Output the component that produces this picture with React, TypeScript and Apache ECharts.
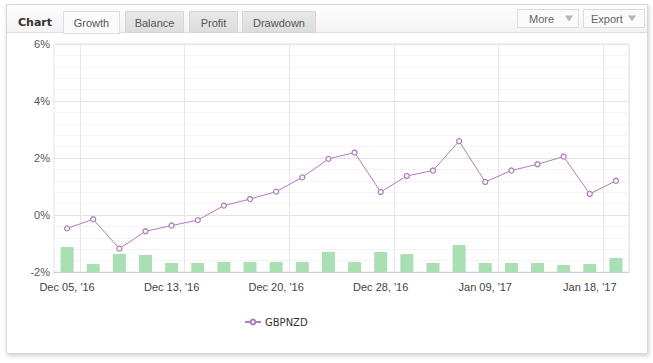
import React, { useEffect, useRef } from 'react';
import * as echarts from 'echarts';

const categories: string[] = [
  "Dec 05, '16", "Dec 06, '16", "Dec 08, '16", "Dec 12, '16",
  "Dec 13, '16", "Dec 14, '16", "Dec 15, '16", "Dec 19, '16",
  "Dec 20, '16", "Dec 21, '16", "Dec 22, '16", "Dec 23, '16",
  "Dec 28, '16", "Dec 29, '16", "Jan 03, '17", "Jan 05, '17",
  "Jan 09, '17", "Jan 10, '17", "Jan 12, '17", "Jan 16, '17",
  "Jan 18, '17", "Jan 19, '17",
];

const growth: number[] = [
  -0.47, -0.15, -1.18, -0.57, -0.37, -0.18, 0.33, 0.56, 0.82, 1.32, 1.97,
  2.19, 0.81, 1.37, 1.56, 2.59, 1.16, 1.56, 1.78, 2.05, 0.74, 1.2,
];

const activity: number[] = [
  25, 8, 18, 17, 9, 9, 10, 10, 10, 10, 20, 10, 20, 18, 9, 27, 9, 9, 9, 7, 8, 14,
];

const yTicks: number[] = [-2, 0, 2, 4, 6];
const tabs: string[] = ['Growth', 'Balance', 'Profit', 'Drawdown'];
const seriesName = 'GBPNZD';

const FONT = "'Liberation Sans', Arial, sans-serif";

export default function App() {
  const ref = useRef<HTMLDivElement>(null);

  useEffect(() => {
    if (!ref.current) return;
    const chart = echarts.init(ref.current, null, { renderer: 'svg' });

    const tabBoxes = [
      { x: 63, w: 56 },
      { x: 125, w: 58 },
      { x: 189, w: 48 },
      { x: 242, w: 73 },
    ];

    const tabGraphics: any[] = [];
    tabs.forEach((t, i) => {
      const b = tabBoxes[i];
      const active = i === 0;
      tabGraphics.push({
        type: 'rect',
        z: -5,
        shape: { x: b.x + 0.5, y: 11.5, width: b.w, height: active ? 22 : 21 },
        style: {
          fill: active
            ? '#fbfbfb'
            : new echarts.graphic.LinearGradient(0, 0, 0, 1, [
                { offset: 0, color: '#e9e9e9' },
                { offset: 1, color: '#dcdcdc' },
              ]),
          stroke: active ? '#dedede' : '#d6d6d6',
          lineWidth: 1,
        },
      });
      tabGraphics.push({
        type: 'text',
        z: 10,
        x: b.x + b.w / 2 + 0.5,
        y: 22.5,
        style: {
          text: t,
          fill: '#555',
          font: `11px ${FONT}`,
          align: 'center',
          verticalAlign: 'middle',
        },
      });
    });

    const buttons = [
      { x: 517, w: 61, label: 'More', tx: 529, ax: 569 },
      { x: 583, w: 61, label: 'Export', tx: 591, ax: 632 },
    ];
    const buttonGraphics: any[] = [];
    buttons.forEach((b) => {
      buttonGraphics.push({
        type: 'rect',
        z: -5,
        shape: { x: b.x + 0.5, y: 9.5, width: b.w, height: 18 },
        style: { fill: '#fafafa', stroke: '#dcdcdc', lineWidth: 1 },
      });
      buttonGraphics.push({
        type: 'text',
        z: 10,
        x: b.tx,
        y: 19,
        style: {
          text: b.label,
          fill: '#666',
          font: `11px ${FONT}`,
          align: 'left',
          verticalAlign: 'middle',
        },
      });
      buttonGraphics.push({
        type: 'polygon',
        z: 10,
        shape: {
          points: [
            [b.ax - 4, 15.5],
            [b.ax + 4, 15.5],
            [b.ax, 21.5],
          ],
        },
        style: { fill: '#b5b5b5' },
      });
    });

    chart.setOption({
      animation: false,
      textStyle: { fontFamily: FONT },
      graphic: [
        {
          type: 'rect',
          z: -10,
          shape: { x: 6.5, y: 4.5, width: 641, height: 349 },
          style: {
            fill: '#ffffff',
            stroke: '#d8d8d8',
            lineWidth: 1,
            shadowBlur: 4,
            shadowOffsetX: 1,
            shadowOffsetY: 2,
            shadowColor: 'rgba(0,0,0,0.18)',
          },
        },
        {
          type: 'rect',
          z: -9,
          shape: { x: 7, y: 5, width: 640, height: 27.5 },
          style: {
            fill: new echarts.graphic.LinearGradient(0, 0, 0, 1, [
              { offset: 0, color: '#fdfdfd' },
              { offset: 1, color: '#f3f3f3' },
            ]),
          },
        },
        {
          type: 'line',
          z: -8,
          shape: { x1: 7, y1: 32.5, x2: 647, y2: 32.5 },
          style: { stroke: '#dedede', lineWidth: 1 },
        },
        {
          type: 'text',
          z: 10,
          x: 18,
          y: 22,
          style: {
            text: 'Chart',
            fill: '#333',
            font: `bold 11px 'DejaVu Sans', sans-serif`,
            align: 'left',
            verticalAlign: 'middle',
          },
        },
        ...tabGraphics,
        ...buttonGraphics,
      ],
      legend: {
        show: true,
        left: 239,
        top: 312,
        itemWidth: 16,
        itemHeight: 6,
        itemGap: 5,
        data: [seriesName],
        textStyle: { color: '#333', fontSize: 10, fontFamily: "'DejaVu Sans', sans-serif", padding: [0, 0, 0, -1] },
      },
      grid: {
        left: 54,
        right: 24,
        top: 44,
        bottom: 91,
        show: true,
        borderColor: '#e4e4e4',
        borderWidth: 1,
        backgroundColor: 'transparent',
      },
      xAxis: {
        type: 'category',
        data: categories,
        boundaryGap: true,
        axisLine: { show: true, onZero: false, lineStyle: { color: '#c0d0e0', width: 1 } },
        axisTick: { show: false },
        axisLabel: {
          interval: (i: number) => i % 4 === 0,
          color: '#444',
          fontSize: 11,
          fontFamily: FONT,
          margin: 9,
        },
        splitLine: {
          show: true,
          interval: (i: number) => i % 4 === 1,
          lineStyle: { color: '#e6e6e6', width: 1 },
        },
      },
      yAxis: [
        {
          type: 'value',
          min: yTicks[0],
          max: yTicks[yTicks.length - 1],
          interval: 2,
          axisLine: { show: false },
          axisTick: { show: false },
          axisLabel: {
            formatter: '{value}%',
            color: '#555',
            fontSize: 11,
            fontFamily: FONT,
            margin: 4,
          },
          splitLine: { show: true, lineStyle: { color: '#e4e4e4', width: 1 } },
          minorTick: { show: false, splitNumber: 5 },
          minorSplitLine: { show: true, lineStyle: { color: '#f3f3f3', width: 1 } },
        },
        {
          type: 'value',
          min: 0,
          max: 228,
          show: false,
          splitLine: { show: false },
        },
      ],
      series: [
        {
          name: 'Activity',
          type: 'bar',
          yAxisIndex: 1,
          data: activity,
          barWidth: 13,
          z: 1,
          itemStyle: { color: '#a9dfb2' },
          silent: true,
        },
        {
          name: seriesName,
          type: 'line',
          yAxisIndex: 0,
          data: growth,
          z: 3,
          symbol: 'circle',
          symbolSize: 5,
          showAllSymbol: true,
          lineStyle: { color: '#b07bbd', width: 1 },
          itemStyle: { color: '#ffffff', borderColor: '#b07bbd', borderWidth: 1.3 },
        },
      ],
    });

    return () => {
      chart.dispose();
    };
  }, []);

  return (
    <div
      style={{ position: 'fixed', left: 0, top: 0, width: 653, height: 363, background: '#ffffff' }}
    >
      <div ref={ref} style={{ width: 653, height: 363 }} />
    </div>
  );
}
